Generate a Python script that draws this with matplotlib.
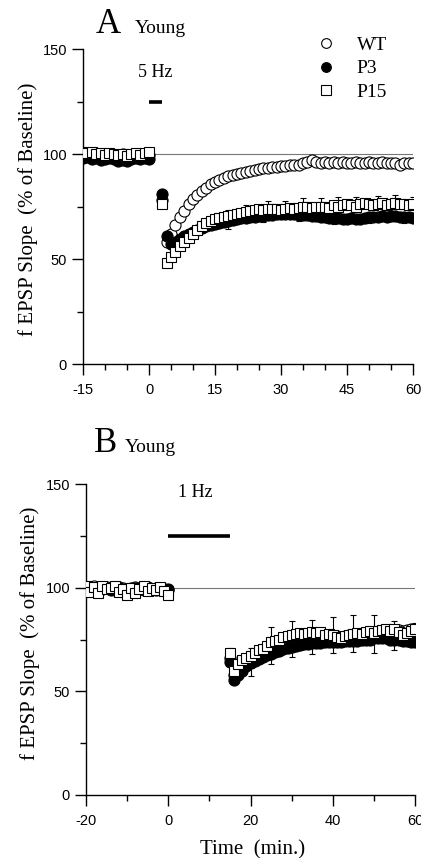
import matplotlib
matplotlib.use('Agg')
import matplotlib.pyplot as plt
from matplotlib.lines import Line2D

plt.rcParams['axes.unicode_minus'] = False

SERIF = 'Liberation Serif'
SANS = 'Liberation Sans'

# ---- panel A (5 Hz) ----
a_base_t = list(range(-15, 1))
a_base_wt = [99.5, 100, 99.5, 99, 99.5, 100, 99.5, 99, 99.5, 100, 99.5, 99, 99.5, 100, 99.5, 99.5]
a_base_p3 = [98, 98.5, 97.5, 98, 97, 97.5, 98, 97.5, 96.5, 97, 96.5, 97.5, 98, 97.5, 98, 97.5]
a_base_p15 = [101, 100.5, 101, 100, 100.5, 99.5, 100.5, 100, 99.5, 100, 99, 100, 100.5, 99.5, 100.5, 101]

a_post_t = list(range(3, 61))
a_post_wt = [78, 58, 62, 66, 70, 73, 76, 78.5, 80.5, 82.5,
             84, 85.5, 86.5, 87.5, 88.5, 89.5, 90, 90.5, 91, 91.5,
             92, 92.5, 93, 93.5, 93.5, 94, 94, 94.5, 94.5, 95,
             95, 95, 95.5, 96, 97, 96, 95.5, 96, 95.5, 96,
             95.5, 96, 95.5, 95.5, 96, 95.5, 95.5, 96, 95.5, 95.5,
             96, 95.5, 95.5, 95.5, 95, 95.5, 95.5, 95.5]
a_post_p3 = [81, 61, 57, 58, 59.5, 61, 62, 63, 64, 65,
             65.5, 66, 66.5, 67, 67.5, 68, 68.5, 69, 69.5, 69.5,
             70, 70, 70.5, 70.5, 71, 71, 71.5, 71.5, 71.5, 71.5,
             71.5, 71, 71, 71, 70.5, 70.5, 70, 70, 69.5, 69.5,
             69.5, 69, 69, 69.5, 69, 69, 69.5, 70, 70, 70,
             70.5, 70, 70.5, 70.5, 70, 70, 70, 69.5]
a_post_p15 = [76, 48, 51, 53.5, 56, 58, 60, 62, 64, 65.5,
              67, 68, 69, 69.5, 70, 70.5, 71, 71.5, 72, 72.5,
              73, 73.5, 74, 73.5, 74, 74, 74, 73.5, 74, 74.5,
              74, 74.5, 75, 75, 74.5, 75, 75, 75, 74.5, 75.5,
              75, 75.5, 76, 75.5, 75, 76, 76.5, 76, 75.5, 76,
              76.5, 75.5, 76, 76.5, 76, 76, 75.5, 76]

a_err_p15_t = [8, 12, 18, 22, 27, 31, 35, 39, 43, 47, 52, 56, 60]
a_err_p15 = [2, 2.5, 3, 3, 3.5, 3.5, 4, 4, 4.5, 4.5, 4, 4, 3.5]
a_err_p3_t = [18, 26, 34, 42, 50, 58]
a_err_p3 = [3.5, 3, 3, 3, 3, 3]

# ---- panel B (1 Hz) ----
b_base_t = list(range(-20, 1))
b_base_wt = [100, 99.5, 101, 100, 99.5, 100.5, 100, 99, 100.5, 100, 99.5,
             100, 100.5, 99.5, 100, 100.5, 99.5, 100, 100, 99.5, 99]
b_base_p3 = [99, 100, 99.5, 100, 99.5, 100, 99, 99.5, 100, 99.5, 99,
             99.5, 100, 99.5, 99, 99.5, 99.5, 99, 99.5, 99.5, 99.5]
b_base_p15 = [101, 98, 100.5, 97.5, 101, 99.5, 100, 101, 98, 99.5, 96.5,
              100, 97.5, 99.5, 101, 98.5, 100, 99, 100.5, 98.5, 96.5]

b_post_t = list(range(15, 61))
b_post_wt = [66, 58, 61, 63, 64.5, 66, 67, 68.5, 69.5, 70.5,
             72, 72.5, 73.5, 74, 75, 75.5, 76, 76, 76.5, 77,
             77, 77, 77.5, 77, 77, 76.5, 76.5, 76, 76.5, 77,
             77, 77.5, 77.5, 78, 78, 78, 78.5, 78.5, 79, 79,
             79, 79.5, 79, 79.5, 80, 80]
b_post_p3 = [64, 55.5, 58, 60, 62, 63.5, 64.5, 65.5, 66.5, 67.5,
             68, 69, 69.5, 70.5, 71, 71.5, 72, 72.5, 73, 73,
             73.5, 73.5, 73.5, 74, 74, 74, 74, 74, 74.5, 74.5,
             74.5, 74.5, 75, 75, 75, 75.5, 75.5, 75.5, 75.5, 75,
             75, 75, 74.5, 74.5, 74, 74]
b_post_p15 = [68.5, 60, 63, 65, 66, 67, 68.5, 70, 70.5, 72,
              74, 74.5, 75, 76, 76.5, 77, 77.5, 78, 77.5, 78,
              78.5, 78, 78.5, 77, 77.5, 77, 76, 75.5, 76.5, 77,
              77.5, 78, 77.5, 78.5, 79, 78, 79, 79.5, 80, 79,
              80, 78.5, 77, 78, 79, 80]

b_err_p15_t = [15, 20, 25, 30, 35, 40, 45, 50, 55, 60]
b_err_p15 = [2.5, 4, 7, 7, 6, 9, 9.5, 9, 4, 3]
b_err_p3_t = [20, 25, 30, 35, 40, 45, 50, 55, 60]
b_err_p3 = [6, 5, 5, 5.5, 5.5, 5.5, 7, 5, 2]

legend_labels = ['WT', 'P3', 'P15']

styles = {
    'WT': dict(marker='o', mfc='white', mec='black', ms=8.0),
    'P3': dict(marker='o', mfc='black', mec='black', ms=8.0),
    'P15': dict(marker='s', mfc='white', mec='black', ms=7.2),
}


def draw_errs(ax, t_all, y_all, t_err, err, up):
    ys = [y_all[t_all.index(t)] for t in t_err]
    zeros = [0] * len(err)
    yerr = [zeros, err] if up else [err, zeros]
    ax.errorbar(t_err, ys, yerr=yerr, fmt='none', ecolor='black',
                elinewidth=0.8, capsize=2.5, capthick=0.8, zorder=2)


def draw_series(ax, base_t, post_t, base, post, name, z):
    st = styles[name]
    for t, y in ((base_t, base), (post_t, post)):
        ax.plot(t, y, linestyle='none', marker=st['marker'], ms=st['ms'],
                mfc=st['mfc'], mec=st['mec'], mew=0.8, zorder=z)


def style_axes(ax, xlim, xmajor, xminor):
    ax.set_xlim(*xlim)
    ax.set_ylim(0, 150)
    ax.spines['top'].set_visible(False)
    ax.spines['right'].set_visible(False)
    for s in ('left', 'bottom'):
        ax.spines[s].set_linewidth(1.0)
    ax.set_xticks(xmajor)
    ax.set_xticks(xminor, minor=True)
    ax.set_yticks([0, 50, 100, 150])
    ax.set_yticks([25, 75, 125], minor=True)
    ax.tick_params(which='major', length=8, width=1, direction='out',
                   labelsize=10.5)
    ax.tick_params(which='minor', length=4, width=1, direction='out')
    ax.tick_params(axis='x', pad=6)
    for lab in ax.get_xticklabels() + ax.get_yticklabels():
        lab.set_fontfamily(SANS)
    ax.axhline(100, color='#777777', lw=0.8, zorder=1)
    ax.set_ylabel('f EPSP Slope  (% of Baseline)', fontfamily=SERIF, fontsize=15)


fig = plt.figure(figsize=(4.21, 8.58), dpi=100)

# panel A
axA = fig.add_axes([83 / 421, 1 - 364 / 858, 330 / 421, 315 / 858])
style_axes(axA, (-15, 60), [-15, 0, 15, 30, 45, 60], list(range(-15, 61, 5)))
axA.yaxis.set_label_coords(-0.135, 0.49)
draw_errs(axA, a_post_t, a_post_p15, a_err_p15_t, a_err_p15, True)
draw_errs(axA, a_post_t, a_post_p3, a_err_p3_t, a_err_p3, False)
draw_series(axA, a_base_t, a_post_t, a_base_wt, a_post_wt, 'WT', 3)
draw_series(axA, a_base_t, a_post_t, a_base_p3, a_post_p3, 'P3', 4)
draw_series(axA, a_base_t, a_post_t, a_base_p15, a_post_p15, 'P15', 5)
axA.plot([0, 3], [125, 125], color='black', lw=2.6, solid_capstyle='butt')
axA.text(1.4, 139, '5 Hz', fontfamily=SERIF, fontsize=13, ha='center', va='center')

handles = [Line2D([], [], linestyle='none', marker=styles[n]['marker'], ms=7,
                  mfc=styles[n]['mfc'], mec=styles[n]['mec'], mew=0.8)
           for n in legend_labels]
fig.legend(handles, legend_labels, loc='upper left',
           bbox_to_anchor=(316 / 421, 1 - 36 / 858), frameon=False,
           prop={'family': SERIF, 'size': 14}, handlelength=1.0,
           handletextpad=1.1, labelspacing=0.32, borderpad=0, borderaxespad=0)

fig.text(96 / 421, 1 - 33 / 858, 'A', fontfamily=SERIF, fontsize=25, va='baseline')
fig.text(135 / 421, 1 - 33 / 858, 'Young', fontfamily=SERIF, fontsize=14, va='baseline')

# panel B
axB = fig.add_axes([86 / 421, 1 - 795 / 858, 329 / 421, 311 / 858])
style_axes(axB, (-20, 60), [-20, 0, 20, 40, 60], list(range(-20, 61, 10)))
axB.yaxis.set_label_coords(-0.14, 0.52)
draw_errs(axB, b_post_t, b_post_p15, b_err_p15_t, b_err_p15, True)
draw_errs(axB, b_post_t, b_post_p3, b_err_p3_t, b_err_p3, False)
draw_series(axB, b_base_t, b_post_t, b_base_wt, b_post_wt, 'WT', 3)
draw_series(axB, b_base_t, b_post_t, b_base_p3, b_post_p3, 'P3', 4)
draw_series(axB, b_base_t, b_post_t, b_base_p15, b_post_p15, 'P15', 5)
axB.plot([0, 15], [125, 125], color='black', lw=2.6, solid_capstyle='butt')
axB.text(6.5, 146, '1 Hz', fontfamily=SERIF, fontsize=13, ha='center', va='center')
axB.set_xlabel('Time  (min.)', fontfamily=SERIF, fontsize=15)
axB.xaxis.set_label_coords(0.505, -0.145)

fig.text(94 / 421, 1 - 452 / 858, 'B', fontfamily=SERIF, fontsize=25, va='baseline')
fig.text(125 / 421, 1 - 452 / 858, 'Young', fontfamily=SERIF, fontsize=14, va='baseline')

fig.savefig('out.png', dpi=100)
